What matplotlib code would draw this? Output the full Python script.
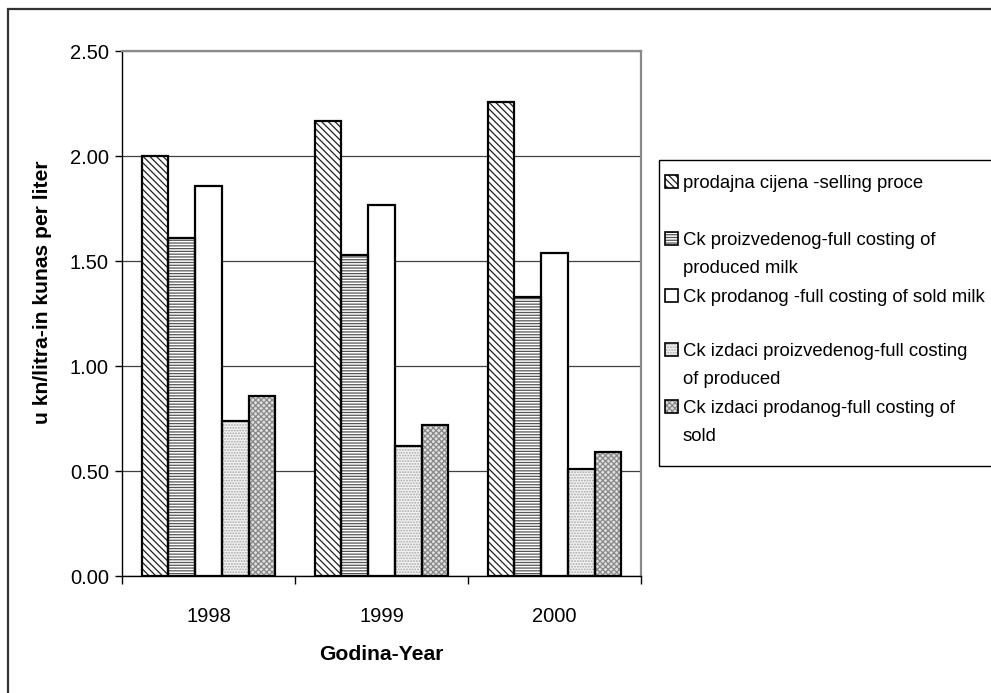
import matplotlib
matplotlib.use("Agg")
import matplotlib.pyplot as plt
from matplotlib.patches import Rectangle
import numpy as np

years = ["1998", "1999", "2000"]
selling_price = [2.00, 2.17, 2.26]
full_cost_produced = [1.61, 1.53, 1.33]
full_cost_sold = [1.86, 1.77, 1.54]
outlay_produced = [0.74, 0.62, 0.51]
outlay_sold = [0.86, 0.72, 0.59]
series_labels = [
    "prodajna cijena -selling proce",
    "Ck proizvedenog-full costing of\nproduced milk",
    "Ck prodanog -full costing of sold milk",
    "Ck izdaci proizvedenog-full costing\nof produced",
    "Ck izdaci prodanog-full costing of\nsold",
]
y_ticks = [0.0, 0.5, 1.0, 1.5, 2.0, 2.5]
y_label = "u kn/litra-in kunas per liter"
x_label = "Godina-Year"

series = [selling_price, full_cost_produced, full_cost_sold,
          outlay_produced, outlay_sold]

# face colour, hatch, hatch colour
styles = [
    ("white", "\\\\\\\\\\", "#202020"),
    ("white", "------", "#555555"),
    ("white", "", "white"),
    ("#f2f2f2", "......", "#a8a8a8"),
    ("#e0e0e0", "xxxxxx", "#888888"),
]

plt.rcParams["font.family"] = ["Liberation Sans", "DejaVu Sans"]
plt.rcParams["hatch.linewidth"] = 0.9
FS_TICK = 14.5
FS_LEG = 13.3
FS_LAB = 15.2

W, H = 991, 693
fig = plt.figure(figsize=(W / 100, H / 100), dpi=100)


def fx(px):
    return px / W


def fy(py):
    return 1 - py / H


ax = fig.add_axes([fx(122), fy(576.3), 519 / W, 525 / H])

x = np.arange(len(years))
bw = 0.1543
for i, vals in enumerate(series):
    face, hatch, hcol = styles[i]
    pos = x + (i - 2) * bw
    ax.bar(pos, vals, bw, color=face, hatch=hatch, edgecolor=hcol,
           linewidth=0, zorder=2)
    ax.bar(pos, vals, bw, fill=False, edgecolor="black", linewidth=1.6,
           zorder=3)

ax.set_xlim(-0.5, 2.5)
ax.set_ylim(0, 2.5)
ax.set_yticks(y_ticks)
ax.set_yticklabels([f"{v:.2f}" for v in y_ticks], fontsize=FS_TICK)
ax.tick_params(axis="y", length=5, width=1, pad=4.5, direction="out")
ax.set_xticks(x)
ax.set_xticklabels(years, fontsize=FS_TICK)
ax.tick_params(axis="x", which="major", length=0, pad=22)
ax.set_xticks(np.arange(-0.5, 3, 1.0), minor=True)
ax.tick_params(axis="x", which="minor", length=6, width=1, direction="out")

ax.yaxis.grid(True, color="#404040", linewidth=0.9, zorder=0)
ax.set_axisbelow(True)
for side in ("top", "right"):
    ax.spines[side].set_color("#8a8a8a")
    ax.spines[side].set_linewidth(1.6)
for side in ("left", "bottom"):
    ax.spines[side].set_color("black")
    ax.spines[side].set_linewidth(1.0)

ax.set_ylabel(y_label, fontsize=FS_LAB, fontweight="bold", va="center")
ax.yaxis.set_label_coords((43 - 122) / 519, (576.3 - 292.5) / 525)
ax.set_xlabel(x_label, fontsize=FS_LAB, fontweight="bold", va="center")
ax.xaxis.set_label_coords(0.5, (576.3 - 655) / 525)

# legend box
fig.patches.append(Rectangle((fx(659), fy(466)), (1010 - 659) / W, 306 / H,
                             transform=fig.transFigure, fill=False,
                             edgecolor="black", linewidth=1.0))
entry_y = [181.7, 238.3, 295, 349.3, 406.7]
line_gap = 28.3
for i, label in enumerate(series_labels):
    face, hatch, hcol = styles[i]
    yc = entry_y[i]
    fig.patches.append(Rectangle((fx(665), fy(yc + 6.5)), 13 / W, 13 / H,
                                 transform=fig.transFigure, facecolor=face,
                                 hatch=hatch, edgecolor=hcol, linewidth=0))
    fig.patches.append(Rectangle((fx(665), fy(yc + 6.5)), 13 / W, 13 / H,
                                 transform=fig.transFigure, fill=False,
                                 edgecolor="black", linewidth=1.2))
    for j, line in enumerate(label.split("\n")):
        fig.text(fx(683), fy(yc + j * line_gap), line, fontsize=FS_LEG,
                 ha="left", va="center_baseline")

# outer chart border
fig.patches.append(Rectangle((fx(8), fy(720)), 1100 / W, (720 - 9) / H,
                             transform=fig.transFigure, fill=False,
                             edgecolor="#333333", linewidth=1.6))

fig.savefig("out.png", dpi=100)
